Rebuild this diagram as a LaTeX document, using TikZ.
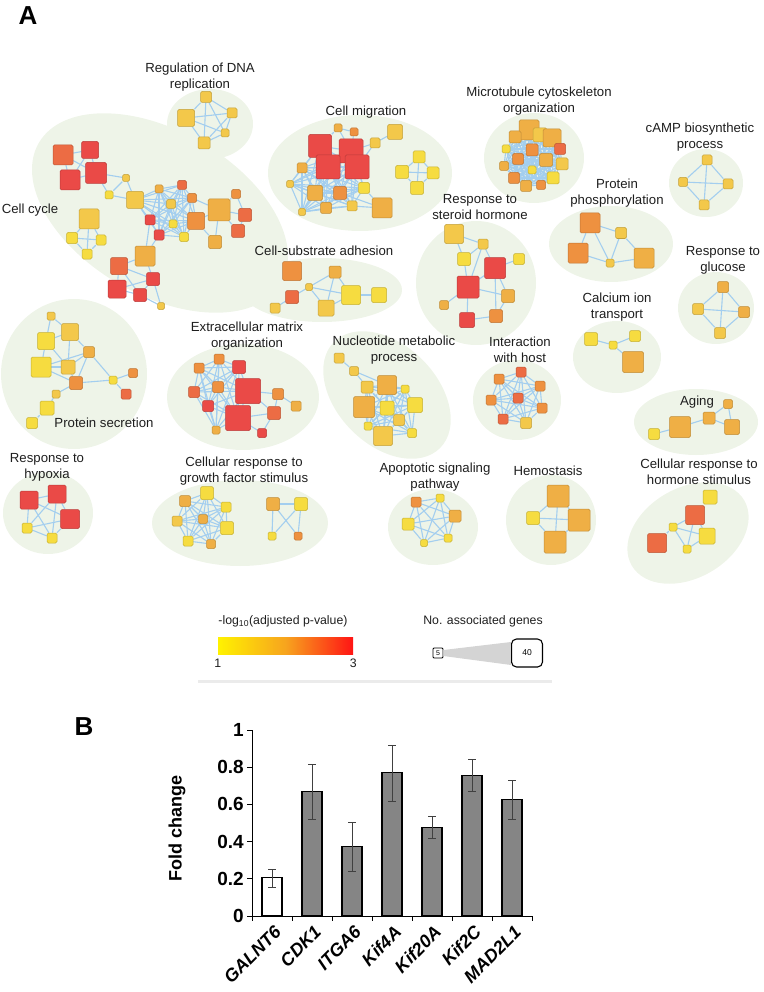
\documentclass[tikz,border=0pt]{standalone}
\usepackage{fontspec}
\setmainfont{Liberation Sans}
\usetikzlibrary{positioning,calc,backgrounds}
\definecolor{blobTint}{HTML}{EEF4E8}
\definecolor{linkBlue}{HTML}{A3CEEF}
\definecolor{lvA}{HTML}{F6DC40}
\definecolor{lvB}{HTML}{F3C84A}
\definecolor{lvC}{HTML}{EFAF45}
\definecolor{lvD}{HTML}{EE9140}
\definecolor{lvE}{HTML}{EC6C44}
\definecolor{lvF}{HTML}{EA4A47}
\definecolor{inkDark}{HTML}{1E1E1E}
\definecolor{barGray}{HTML}{858585}
\definecolor{heatLo}{HTML}{FFF200}
\definecolor{heatMid}{HTML}{F7A41E}
\definecolor{heatHi}{HTML}{FF1414}
\pgfdeclarelayer{blobs}
\pgfdeclarelayer{links}
\pgfsetlayers{blobs,links,main}
% every pair of a node list gets a link
\newcommand\meshlinks[1]{%
  \foreach \a [count=\i] in {#1}{%
    \foreach \b [count=\j] in {#1}{%
      \ifnum\i<\j \draw[link] (\a) -- (\b);\fi}}}

\begin{document}
\begin{tikzpicture}[x=1pt,y=-1pt,
  gene/.style 2 args={rectangle,rounded corners=1.5pt,inner sep=0pt,
        minimum size=#1pt,fill=#2,draw=#2!80!black,line width=0.5pt},
  link/.style={linkBlue,line width=1.1pt},
  blob/.style={fill=blobTint},
  lbl/.style={font=\fontsize{13.2}{16}\selectfont,text=inkDark,align=center,inner sep=0pt},
  panel/.style={font=\fontsize{26}{30}\selectfont\bfseries,inner sep=0pt},
  keytext/.style={font=\fontsize{12.3}{14}\selectfont,text=inkDark,inner sep=0pt},
  axisline/.style={black,line width=1pt},
  ticklab/.style={font=\fontsize{19}{21}\selectfont\bfseries,inner sep=0pt},
  genelab/.style={font=\fontsize{18}{20}\selectfont\bfseries\itshape,inner sep=0pt}]
\useasboundingbox (0,0) rectangle (763,992);

\node[panel] (pA) at (28,16) {A};
\node[panel] (pB) at (84,727) {B};

% ---- term clusters: shaded areas
\begin{pgfonlayer}{blobs}
  \fill[blob] (210,124) ellipse [x radius=43pt,y radius=35pt];
  \fill[blob,rotate around={-30:(160,213)}] (160,213) ellipse [x radius=140pt,y radius=82pt];
  \fill[blob] (360,173) ellipse [x radius=92pt,y radius=58pt];
  \fill[blob] (534,158) ellipse [x radius=50pt,y radius=45pt];
  \fill[blob] (706,183) ellipse [x radius=37pt,y radius=34pt];
  \fill[blob] (611,244) ellipse [x radius=62pt,y radius=38pt];
  \fill[blob] (716,308) ellipse [x radius=38pt,y radius=36pt];
  \fill[blob] (476,283) ellipse [x radius=60pt,y radius=62pt];
  \fill[blob] (322,290) ellipse [x radius=80pt,y radius=32pt];
  \fill[blob] (74,374) ellipse [x radius=73pt,y radius=75pt];
  \fill[blob] (48,513) ellipse [x radius=45pt,y radius=41pt];
  \fill[blob] (243,397) ellipse [x radius=76pt,y radius=53pt];
  \fill[blob,rotate around={-45:(387,395)}] (387,395) ellipse [x radius=75pt,y radius=50pt];
  \fill[blob] (240,523) ellipse [x radius=88pt,y radius=43pt];
  \fill[blob] (433,527) ellipse [x radius=45pt,y radius=38pt];
  \fill[blob] (517,400) ellipse [x radius=44pt,y radius=40pt];
  \fill[blob] (617,357) ellipse [x radius=44pt,y radius=36pt];
  \fill[blob] (696,422) ellipse [x radius=62pt,y radius=33pt];
  \fill[blob] (551,520) ellipse [x radius=45pt,y radius=45pt];
  \fill[blob,rotate around={30:(688,533)}] (688,533) ellipse [x radius=65pt,y radius=45pt];
\end{pgfonlayer}

% ---- genes
\foreach \nm/\px/\py/\sz/\lv in {
  dr1/186/118/17/B, dr2/206/97/11/B, dr3/232/113/10/B, dr4/225/133/8/B, dr5/204/143/12/B,
  cc1/63/155/20/E, cc2/90/150/17/F, cc3/70/180/20/F, cc4/96/173/21/F, cc5/126/178/7/B,
  cc6/109/195/8/A, cc7/135/200/17/B, cc8/89/219/20/B, cc9/72/238/11/A, cc10/101/240/10/A,
  cc11/87/254/10/A, cc12/159/189/8/C, cc13/182/185/9/E, cc14/171/204/9/B, cc15/192/198/9/D,
  cc16/150/220/10/F, cc17/173/224/8/A, cc18/159/235/10/F, cc19/184/237/9/A, cc20/196/221/17/D,
  cc21/219/210/22/C, cc22/236/194/9/D, cc23/245/215/13/E, cc24/238/231/13/E, cc25/215/242/13/C,
  cc26/145/256/20/C, cc27/119/266/17/E, cc28/153/279/13/F, cc29/117/289/18/F, cc30/140/295/13/F,
  cc31/161/306/7/B,
  cm1/320/146/23/F, cm2/351/151/24/F, cm3/328/167/24/F, cm4/357/167/24/F, cm5/338/128/8/C,
  cm6/354/132/8/D, cm7/375/143/10/B, cm8/395/132/15/B, cm9/302/168/10/C, cm10/290/184/7/B,
  cm11/315/193/15/C, cm12/340/193/13/D, cm13/364/188/11/A, cm14/326/208/11/C, cm15/302/212/7/B,
  cm16/352/206/10/B, cm17/382/208/20/C, cm18/419/157/12/A, cm19/402/172/13/A, cm20/433/173/12/A,
  cm21/417/188/13/A,
  mt1/529/130/20/C, mt2/515/137/12/C, mt3/540/135/14/B, mt4/552/138/18/C, mt5/506/149/8/A,
  mt6/532/150/12/D, mt7/560/149/11/E, mt8/518/159/11/D, mt9/546/160/13/C, mt10/562/164/12/B,
  mt11/504/166/9/C, mt12/532/170/8/A, mt13/514/178/11/D, mt14/553/178/12/A, mt15/526/186/11/C,
  mt16/541/185/9/D,
  ca1/707/160/10/B, ca2/683/182/9/B, ca3/728/184/10/B, ca4/704/205/10/B,
  pp1/590/223/20/D, pp2/621/233/11/B, pp3/578/253/20/D, pp4/610/263/8/B, pp5/644/258/20/C,
  gl1/723/287/11/C, gl2/698/309/11/B, gl3/744/312/11/C, gl4/720/333/11/B,
  sh1/454/234/19/B, sh2/483/244/10/B, sh3/464/259/13/A, sh4/495/268/21/F, sh5/519/259/11/A,
  sh6/468/287/22/F, sh7/508/296/13/C, sh8/444/305/9/C, sh9/467/320/15/F, sh10/496/316/13/D,
  cs1/292/271/19/D, cs2/335/272/12/C, cs3/309/287/7/B, cs4/292/297/13/E, cs5/351/295/19/A,
  cs6/379/295/15/A, cs7/275/308/10/B, cs8/326/308/16/B,
  ps1/51/316/8/B, ps2/46/341/17/A, ps3/70/332/17/B, ps4/41/367/20/A, ps5/68/367/14/B,
  ps6/89/352/11/C, ps7/76/383/13/D, ps8/113/380/8/A, ps9/133/373/9/D, ps10/126/394/10/E,
  ps11/56/394/8/B, ps12/47/408/14/A, ps13/32/423/11/A,
  hy1/29/500/18/F, hy2/57/494/18/F, hy3/70/519/19/F, hy4/27/528/10/A, hy5/52/538/10/A,
  em1/219/359/10/D, em2/199/368/10/D, em3/239/367/13/F, em4/218/387/11/D, em5/248/391/25/F,
  em6/194/392/11/E, em7/278/394/11/D, em8/296/406/10/C, em9/208/406/11/F, em10/274/413/13/E,
  em11/238/418/25/F, em12/216/430/8/C, em13/262/433/9/F,
  nm1/339/358/10/B, nm2/354/371/9/B, nm3/367/387/12/B, nm4/387/385/19/C, nm5/405/389/8/A,
  nm6/364/407/21/C, nm7/387/408/14/A, nm8/415/405/15/A, nm9/399/420/11/B, nm10/368/426/8/A,
  nm11/383/436/19/B, nm12/412/433/9/A,
  gf1/207/493/13/A, gf2/185/501/11/C, gf3/226/507/10/A, gf4/177/521/10/B, gf5/203/519/9/C,
  gf6/227/528/13/A, gf7/188/541/10/A, gf8/211/544/9/C, gf9/273/504/13/C, gf10/301/504/13/A,
  gf11/272/536/8/A, gf12/298/536/8/D,
  ap1/416/502/10/D, ap2/440/498/8/A, ap3/455/516/12/C, ap4/408/524/12/A, ap5/448/538/8/A,
  ap6/424/543/7/A,
  ih1/521/372/10/E, ih2/499/379/10/D, ih3/540/386/10/D, ih4/491/400/10/D, ih5/518/398/10/E,
  ih6/542/408/10/D, ih7/503/419/10/E, ih8/526/423/11/B,
  ci1/591/339/13/A, ci2/613/345/8/A, ci3/635/336/11/A, ci4/633/362/21/C,
  ag1/654/434/11/A, ag2/680/427/21/C, ag3/709/418/12/C, ag4/728/404/9/C, ag5/732/427/15/C,
  hm1/558/496/22/C, hm2/533/518/13/A, hm3/579/520/22/C, hm4/555/542/22/C,
  hs1/710/497/14/A, hs2/695/515/19/E, hs3/673/527/8/A, hs4/707/536/16/A, hs5/657/543/19/E,
  hs6/687/549/8/A}
  \node[gene={\sz}{lv\lv}] (\nm) at (\px,\py) {};

% ---- links
\begin{pgfonlayer}{links}
  \meshlinks{dr1,dr2,dr3,dr4,dr5}
  \meshlinks{cc7,cc12,cc13,cc14,cc15,cc16,cc17,cc18,cc19,cc20}
  \meshlinks{cm1,cm2,cm3,cm4,cm9,cm10,cm11,cm12,cm13,cm14,cm15,cm16}
  \meshlinks{mt1,mt2,mt3,mt4,mt5,mt6,mt7,mt8,mt9,mt10,mt11,mt12,mt13,mt14,mt15,mt16}
  \meshlinks{ca1,ca2,ca3,ca4}
  \meshlinks{gl1,gl2,gl3,gl4}
  \meshlinks{hy1,hy2,hy3,hy4,hy5}
  \meshlinks{em1,em2,em3,em4,em5,em6,em9,em11,em12}
  \meshlinks{nm3,nm4,nm5,nm6,nm7,nm8,nm9,nm10,nm11,nm12}
  \meshlinks{gf1,gf2,gf3,gf4,gf5,gf6,gf7,gf8}
  \meshlinks{ap1,ap2,ap3,ap4,ap5,ap6}
  \meshlinks{ih1,ih2,ih3,ih4,ih5,ih6,ih7,ih8}
  \foreach \a/\b in {
    cc1/cc2, cc1/cc3, cc1/cc4, cc2/cc4, cc3/cc4, cc2/cc3, cc4/cc5, cc4/cc6, cc5/cc6,
    cc5/cc7, cc6/cc7, cc8/cc11, cc9/cc10, cc8/cc9, cc8/cc10, cc9/cc11, cc10/cc11,
    cc20/cc21, cc15/cc21, cc21/cc22, cc21/cc23, cc21/cc24, cc21/cc25, cc20/cc25,
    cc23/cc24, cc22/cc23, cc18/cc26, cc16/cc26, cc26/cc27, cc26/cc28, cc27/cc28,
    cc27/cc29, cc28/cc30, cc29/cc30, cc28/cc29, cc30/cc31, cc28/cc31, cc27/cc30,
    cm5/cm1, cm5/cm2, cm6/cm2, cm5/cm6, cm2/cm7, cm7/cm8, cm4/cm7, cm12/cm17,
    cm16/cm17, cm13/cm17, cm18/cm21, cm19/cm20, cm18/cm19, cm18/cm20, cm19/cm21, cm20/cm21,
    pp1/pp2, pp1/pp3, pp1/pp4, pp2/pp4, pp2/pp5, pp3/pp4, pp4/pp5,
    sh1/sh3, sh1/sh2, sh2/sh3, sh2/sh6, sh2/sh4, sh4/sh5, sh4/sh6, sh4/sh7, sh6/sh7,
    sh6/sh8, sh6/sh9, sh4/sh10, sh9/sh10, sh7/sh10, sh3/sh6,
    cs3/cs2, cs3/cs5, cs3/cs8, cs3/cs4, cs4/cs7, cs2/cs8, cs2/cs5, cs5/cs6, cs5/cs8,
    ps1/ps2, ps1/ps3, ps2/ps3, ps2/ps4, ps2/ps5, ps3/ps5, ps3/ps6, ps4/ps5, ps4/ps7,
    ps5/ps6, ps5/ps7, ps6/ps7, ps7/ps8, ps6/ps8, ps8/ps9, ps8/ps10, ps7/ps11,
    ps11/ps12, ps12/ps13, ps4/ps6,
    em5/em7, em7/em8, em7/em10, em5/em10, em10/em11, em11/em13, em10/em13,
    nm1/nm2, nm2/nm3, nm2/nm4,
    gf9/gf10, gf9/gf11, gf9/gf12, gf10/gf11, gf10/gf12,
    ci1/ci2, ci2/ci3, ci2/ci4,
    ag1/ag2, ag2/ag3, ag3/ag4, ag3/ag5, ag4/ag5,
    hm1/hm4, hm2/hm3, hm1/hm2, hm2/hm4, hm1/hm3, hm3/hm4,
    hs2/hs3, hs2/hs4, hs2/hs6, hs3/hs6, hs3/hs5, hs4/hs6, hs3/hs4}
    \draw[link] (\a) -- (\b);
\end{pgfonlayer}

% ---- term names
\node[lbl] (tDNA) at (200,77) {Regulation of DNA\\replication};
\node[lbl] (tCyc) at (30,210) {Cell cycle};
\node[lbl] (tMig) at (366,112) {Cell migration};
\node[lbl] (tMic) at (539,101) {Microtubule cytoskeleton\\organization};
\node[lbl] (tCamp) at (700,137) {cAMP biosynthetic\\process};
\node[lbl] (tSter) at (480,207) {Response to\\steroid hormone};
\node[lbl] (tPhos) at (617,193) {Protein\\phosphorylation};
\node[lbl] (tSub) at (324,251) {Cell-substrate adhesion};
\node[lbl] (tGlu) at (723,260) {Response to\\glucose};
\node[lbl] (tCal) at (617,307) {Calcium ion\\transport};
\node[lbl] (tEcm) at (247,336) {Extracellular matrix\\organization};
\node[lbl] (tNuc) at (394,350) {Nucleotide metabolic\\process};
\node[lbl] (tHost) at (520,350) {Interaction\\with host};
\node[lbl] (tSec) at (104,423) {Protein secretion};
\node[lbl] (tAge) at (697,402) {Aging};
\node[lbl] (tHyp) at (47,467) {Response to\\hypoxia};
\node[lbl] (tGro) at (244,471) {Cellular response to\\growth factor stimulus};
\node[lbl] (tApo) at (435,477) {Apoptotic signaling\\pathway};
\node[lbl] (tHem) at (548,471) {Hemostasis};
\node[lbl] (tHor) at (699,472) {Cellular response to\\hormone stimulus};

% ---- keys
\draw[black!8,line width=3pt] (198,681) -- (552,681);
\node[keytext] (kHeat) at (283,621) {-log\textsubscript{10}(adjusted p-value)};
\node[minimum width=135pt,minimum height=17pt,inner sep=0pt,
      left color=heatLo,right color=heatHi,middle color=heatMid] (cbar) at (285.5,645.5) {};
\node[keytext,below=5pt of cbar.south west] (kLo) {1};
\node[keytext,below=5pt of cbar.south east] (kHi) {3};
\node[keytext] (kSize) at (483,621) {No. associated genes};
\node[draw,rounded corners=1pt,minimum size=10pt,inner sep=0pt,line width=0.8pt,
      font=\fontsize{7}{8}\selectfont] (gsmall) at (438,653) {5};
\node[draw,rounded corners=5pt,minimum width=31pt,minimum height=28pt,inner sep=0pt,
      line width=1.1pt,font=\fontsize{8.5}{10}\selectfont] (gbig) at (527,653) {40};
\fill[black!17] ([yshift=3pt]gsmall.east) -- ([yshift=11pt]gbig.west)
  -- ([yshift=-12pt]gbig.west) -- ([yshift=-3pt]gsmall.east) -- cycle;

% ---- panel B: fold change bars
\node[font=\fontsize{18}{20}\selectfont\bfseries,rotate=90,inner sep=0pt] (yname) at (177,828) {Fold change};
\foreach \t [count=\i from 0] in {0,0.2,0.4,0.6,0.8,1}{
  \pgfmathsetmacro\ty{916-37.2*\i}
  \draw[axisline] (252,\ty) -- (247,\ty);
  \node[ticklab,anchor=east] (yt\i) at (244,\ty) {\t};
}
\foreach \g/\v/\lo/\hi [count=\k from 0] in {GALNT6/0.205/0.155/0.25,
    CDK1/0.67/0.52/0.815, ITGA6/0.375/0.24/0.505, Kif4A/0.77/0.615/0.915,
    Kif20A/0.475/0.415/0.535, Kif2C/0.755/0.67/0.84, MAD2L1/0.625/0.52/0.73}{
  \pgfmathsetmacro\bx{272+40*\k}
  \pgfmathsetmacro\bt{916-186*\v}
  \pgfmathsetmacro\el{916-186*\lo}
  \pgfmathsetmacro\eh{916-186*\hi}
  \ifnum\k=0 \def\barfill{white}\else\def\barfill{barGray}\fi
  \draw[black,line width=1.1pt,fill=\barfill] (\bx-10,916) rectangle (\bx+10,\bt);
  \draw[black!75,line width=0.8pt] (\bx,\el) -- (\bx,\eh)
    (\bx-4,\el) -- (\bx+4,\el) (\bx-4,\eh) -- (\bx+4,\eh);
  \node[genelab,rotate=45,anchor=east] (xg\k) at (\bx+6,929) {\g};
}
\draw[axisline] (252,730) -- (252,916) -- (532,916);
\foreach \i in {0,...,7}
  \draw[axisline] (252+40*\i,916) -- (252+40*\i,921);
\end{tikzpicture}
\end{document}
